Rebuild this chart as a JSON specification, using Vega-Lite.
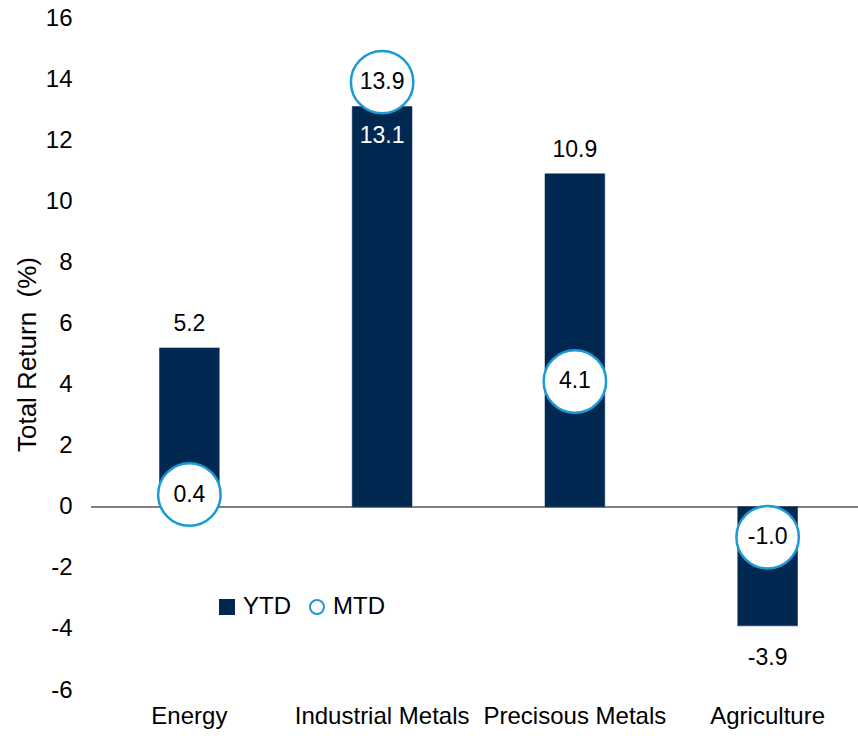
{
  "$schema": "https://vega.github.io/schema/vega-lite/v6.json",
  "autosize": "none",
  "width": 771,
  "height": 672,
  "padding": {"left": 93, "top": 18, "right": 0, "bottom": 46},
  "background": "white",
  "config": {
    "view": {"stroke": null},
    "font": "Liberation Sans",
    "axis": {"labelFont": "Liberation Sans", "titleFont": "Liberation Sans", "labelColor": "#000000", "titleColor": "#000000"},
    "legend": {
      "title": null,
      "orient": "none",
      "direction": "horizontal",
      "legendX": 122,
      "legendY": 577,
      "labelFontSize": 24,
      "labelFont": "Liberation Sans",
      "labelColor": "#000000",
      "symbolSize": 196,
      "symbolStrokeWidth": 2,
      "labelOffset": 4,
      "columnPadding": 14
    }
  },
  "data": {
    "values": [
      {"category": "Energy", "series": "YTD", "value": 5.2},
      {"category": "Industrial Metals", "series": "YTD", "value": 13.1},
      {"category": "Precisous Metals", "series": "YTD", "value": 10.9},
      {"category": "Agriculture", "series": "YTD", "value": -3.9},
      {"category": "Energy", "series": "MTD", "value": 0.4},
      {"category": "Industrial Metals", "series": "MTD", "value": 13.9},
      {"category": "Precisous Metals", "series": "MTD", "value": 4.1},
      {"category": "Agriculture", "series": "MTD", "value": -1.0}
    ]
  },
  "transform": [{"calculate": "replace(format(datum.value, '.1f'), '\u2212', '-')", "as": "label"}],
  "encoding": {
    "x": {
      "field": "category",
      "type": "nominal",
      "sort": ["Energy", "Industrial Metals", "Precisous Metals", "Agriculture"],
      "scale": {"paddingInner": 0.69, "paddingOuter": 0.345},
      "axis": {"title": null, "labelAngle": 0, "labelFontSize": 24, "labelLimit": 0, "domain": false, "ticks": false, "labelPadding": 14}
    },
    "y": {
      "field": "value",
      "type": "quantitative",
      "scale": {"domain": [-6, 16], "nice": false, "zero": false},
      "axis": {"title": "Total Return\u00a0\u00a0(%)", "titleFontSize": 26, "titleFontWeight": "normal", "titlePadding": 5, "values": [-6, -4, -2, 0, 2, 4, 6, 8, 10, 12, 14, 16], "labelExpr": "replace(datum.label, '\u2212', '-')", "labelFontSize": 24, "domain": false, "ticks": false, "grid": false, "labelPadding": 21}
    }
  },
  "layer": [
    {
      "mark": {"type": "rule", "color": "#808080", "strokeWidth": 1.5},
      "encoding": {"x": {"value": -2}, "x2": {"value": 800}, "y": {"datum": 0}}
    },
    {
      "transform": [{"filter": "datum.series === 'YTD'"}],
      "mark": {"type": "bar", "strokeWidth": 0.5},
      "encoding": {
        "fill": {"field": "series", "type": "nominal", "scale": {"domain": ["YTD", "MTD"], "range": ["#002850", "#ffffff"]}},
        "stroke": {"field": "series", "type": "nominal", "scale": {"domain": ["YTD", "MTD"], "range": ["#002850", "#1b9ad6"]}}
      }
    },
    {
      "transform": [{"filter": "datum.series === 'MTD'"}],
      "mark": {"type": "point", "filled": true, "size": 3900, "strokeWidth": 2.5, "opacity": 1},
      "encoding": {
        "fill": {"field": "series", "type": "nominal"},
        "stroke": {"field": "series", "type": "nominal"},
        "shape": {"field": "series", "type": "nominal", "scale": {"domain": ["YTD", "MTD"], "range": ["square", "circle"]}}
      }
    },
    {
      "transform": [{"filter": "datum.series === 'MTD'"}],
      "mark": {"type": "text", "fontSize": 23, "baseline": "middle", "color": "#000000"},
      "encoding": {"text": {"field": "label", "type": "nominal"}}
    },
    {
      "transform": [{"filter": "datum.series === 'YTD' && (datum.category === 'Energy' || datum.category === 'Precisous Metals')"}],
      "mark": {"type": "text", "fontSize": 23, "baseline": "alphabetic", "dy": -17, "color": "#000000"},
      "encoding": {"text": {"field": "label", "type": "nominal"}}
    },
    {
      "transform": [{"filter": "datum.series === 'YTD' && datum.category === 'Industrial Metals'"}],
      "mark": {"type": "text", "fontSize": 23, "baseline": "alphabetic", "dy": 36, "color": "#ffffff"},
      "encoding": {"text": {"field": "label", "type": "nominal"}}
    },
    {
      "transform": [{"filter": "datum.series === 'YTD' && datum.category === 'Agriculture'"}],
      "mark": {"type": "text", "fontSize": 23, "baseline": "alphabetic", "dy": 39, "color": "#000000"},
      "encoding": {"text": {"field": "label", "type": "nominal"}}
    }
  ]
}
